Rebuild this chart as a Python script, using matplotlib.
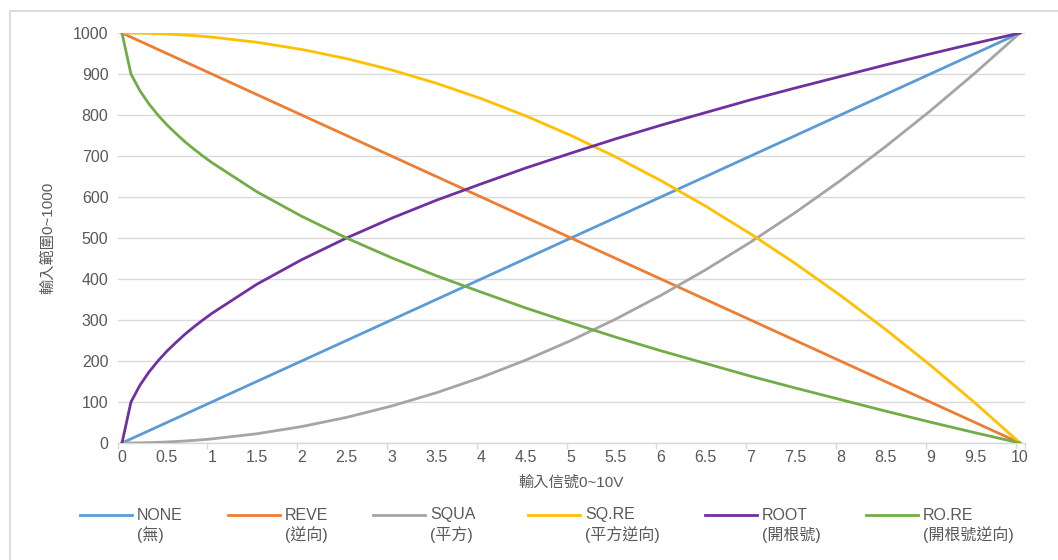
import matplotlib
matplotlib.use('Agg')
import matplotlib.pyplot as plt
from matplotlib.lines import Line2D
from matplotlib.patches import Rectangle

plt.rcParams['font.family'] = ['Liberation Sans', 'Noto Sans CJK TC', 'DejaVu Sans']

# input signal (V)
x_vals = [0, 0.1, 0.2, 0.3, 0.4, 0.5, 0.6, 0.7, 0.8, 0.9, 1.0,
          1.5, 2, 2.5, 3, 3.5, 4, 4.5, 5, 5.5, 6, 6.5, 7, 7.5,
          8, 8.5, 9, 9.5, 10]

none_vals = [0, 10, 20, 30, 40, 50, 60, 70, 80, 90, 100,
             150, 200, 250, 300, 350, 400, 450, 500, 550, 600, 650, 700, 750,
             800, 850, 900, 950, 1000]
reve_vals = [1000, 990, 980, 970, 960, 950, 940, 930, 920, 910, 900,
             850, 800, 750, 700, 650, 600, 550, 500, 450, 400, 350, 300, 250,
             200, 150, 100, 50, 0]
squa_vals = [0, 0.1, 0.4, 0.9, 1.6, 2.5, 3.6, 4.9, 6.4, 8.1, 10,
             22.5, 40, 62.5, 90, 122.5, 160, 202.5, 250, 302.5, 360, 422.5, 490, 562.5,
             640, 722.5, 810, 902.5, 1000]
sqre_vals = [1000, 999.9, 999.6, 999.1, 998.4, 997.5, 996.4, 995.1, 993.6, 991.9, 990,
             977.5, 960, 937.5, 910, 877.5, 840, 797.5, 750, 697.5, 640, 577.5, 510, 437.5,
             360, 277.5, 190, 97.5, 0]
root_vals = [0, 100, 141, 173, 200, 224, 245, 265, 283, 300, 316,
             387, 447, 500, 548, 592, 632, 671, 707, 742, 775, 806, 837, 866,
             894, 922, 949, 975, 1000]
rore_vals = [1000, 900, 859, 827, 800, 776, 755, 735, 717, 700, 684,
             613, 553, 500, 452, 408, 368, 329, 293, 258, 225, 194, 163, 134,
             106, 78, 51, 25, 0]

series_names = ['NONE', 'REVE', 'SQUA', 'SQ.RE', 'ROOT', 'RO.RE']
series_notes = ['(無)', '(逆向)', '(平方)', '(平方逆向)', '(開根號)', '(開根號逆向)']
series_data = [none_vals, reve_vals, squa_vals, sqre_vals, root_vals, rore_vals]
colors = ['#5B9BD5', '#ED7D31', '#A5A5A5', '#FFC000', '#7030A0', '#70AD47']

x_ticks = [i * 0.5 for i in range(21)]
x_ticklabels = ['0', '0.5', '1', '1.5', '2', '2.5', '3', '3.5', '4', '4.5', '5',
                '5.5', '6', '6.5', '7', '7.5', '8', '8.5', '9', '9.5', '10']
y_ticks = [0, 100, 200, 300, 400, 500, 600, 700, 800, 900, 1000]

TXT = '#595959'
GRID = '#d9d9d9'
FS = 11.5
W, H = 1058, 560

fig = plt.figure(figsize=(W / 100, H / 100), dpi=100)
fig.add_artist(Rectangle((10 / W, -0.1), 1.2, 1 - 10.5 / H + 0.1, transform=fig.transFigure,
                         fill=False, edgecolor=GRID, linewidth=1.3))

ax = fig.add_axes([117.5 / W, 1 - 443 / H, 907 / W, 410 / H])
for xs, c in zip(series_data, colors):
    ax.plot(x_vals, xs, color=c, linewidth=2.0, solid_joinstyle='round', zorder=3)

ax.set_xlim(-0.05, 10.05)
ax.set_ylim(0, 1000)
ax.set_yticks(y_ticks)
ax.set_xticks(x_ticks)
ax.set_xticklabels(x_ticklabels)
ax.set_xticks([-0.05 + k for k in range(11)] + [10.05], minor=True)
ax.tick_params(axis='x', which='major', length=0, pad=5, labelsize=FS, labelcolor=TXT)
ax.tick_params(axis='x', which='minor', length=4, width=1, color=GRID)
ax.tick_params(axis='y', length=0, pad=6.5, labelsize=FS, labelcolor=TXT)
ax.grid(axis='y', color=GRID, linewidth=1)
ax.set_axisbelow(True)
for s in ['top', 'right', 'left']:
    ax.spines[s].set_visible(False)
ax.spines['bottom'].set_color(GRID)
ax.spines['bottom'].set_linewidth(1)

fig.text(48 / W, 1 - 238 / H, '輸入範圍0~1000', rotation=90, ha='center', va='center',
         color=TXT, fontsize=FS - 0.5)
fig.text(571 / W, 1 - 483 / H, '輸入信號0~10V', ha='center', va='center',
         color=TXT, fontsize=FS - 0.5)

# legend, drawn by hand so the key line sits on the first text line
leg_x = [80, 228, 373, 528, 705, 866]
for lx, name, note, c in zip(leg_x, series_names, series_notes, colors):
    fig.add_artist(Line2D([lx / W, (lx + 52) / W], [1 - 515 / H, 1 - 515 / H],
                          transform=fig.transFigure, color=c, linewidth=2.0))
    fig.text((lx + 57) / W, 1 - 515 / H, name, ha='left', va='center', color=TXT, fontsize=FS)
    fig.text((lx + 57) / W, 1 - 535 / H, note, ha='left', va='center', color=TXT, fontsize=FS)

fig.savefig('out.png', dpi=100)
